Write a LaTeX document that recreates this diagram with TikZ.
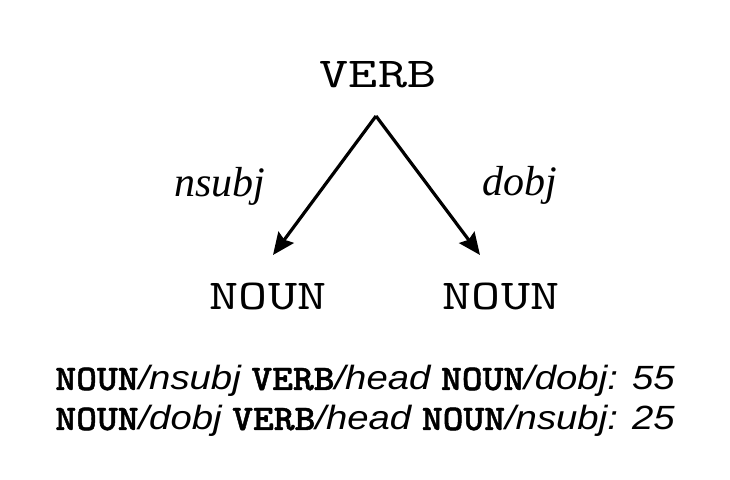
\documentclass[tikz,border=0pt]{standalone}
\usepackage{fontspec}
\setmainfont{Liberation Serif}
\newfontfamily\courierfont{lmmono10-regular.otf}[FakeStretch=1.3]
\newfontfamily\courierbold{lmmonolt10-bold.otf}[FakeStretch=1.1,FakeBold=1.2]
\newfontfamily\helvfont{Liberation Sans}[FakeStretch=1.14]
\usetikzlibrary{arrows.meta}
\newcommand{\mtag}[1]{{\upshape\courierbold\fontsize{18}{22}\selectfont #1}}
\begin{document}
\begin{tikzpicture}[x=0.5pt,y=-0.5pt,
  posnode/.style={font=\courierfont\fontsize{21.3}{26}\selectfont, inner sep=0pt},
  rellabel/.style={font=\itshape\fontsize{21}{25}\selectfont, inner sep=0pt},
  deparrow/.style={line width=1.6pt, -{Stealth[length=11pt,width=9.5pt,inset=1.5pt]}},
  pattern/.style={font=\helvfont\itshape\fontsize{16.8}{22}\selectfont, inner sep=0pt, anchor=base west}]
\useasboundingbox (0,0) rectangle (730,480);
\node[posnode] (verb) at (378,75) {VERB};
\node[posnode] (noun1) at (268,296) {NOUN};
\node[posnode] (noun2) at (501,296) {NOUN};
\coordinate (apex) at (376,116);
\coordinate (tip1) at (273,255);
\coordinate (tip2) at (480,255);
\draw[deparrow] (apex) -- (tip1);
\draw[deparrow] (apex) -- (tip2);
\node[rellabel] (lnsubj) at (220,186) {nsubj};
\node[rellabel] (ldobj) at (520,185) {dobj};
\node[pattern] (p1) at (55,390) {\mtag{NOUN}/nsubj \mtag{VERB}/head \mtag{NOUN}/dobj: 55};
\node[pattern] (p2) at (55,430) {\mtag{NOUN}/dobj \mtag{VERB}/head \mtag{NOUN}/nsubj: 25};
\end{tikzpicture}
\end{document}
